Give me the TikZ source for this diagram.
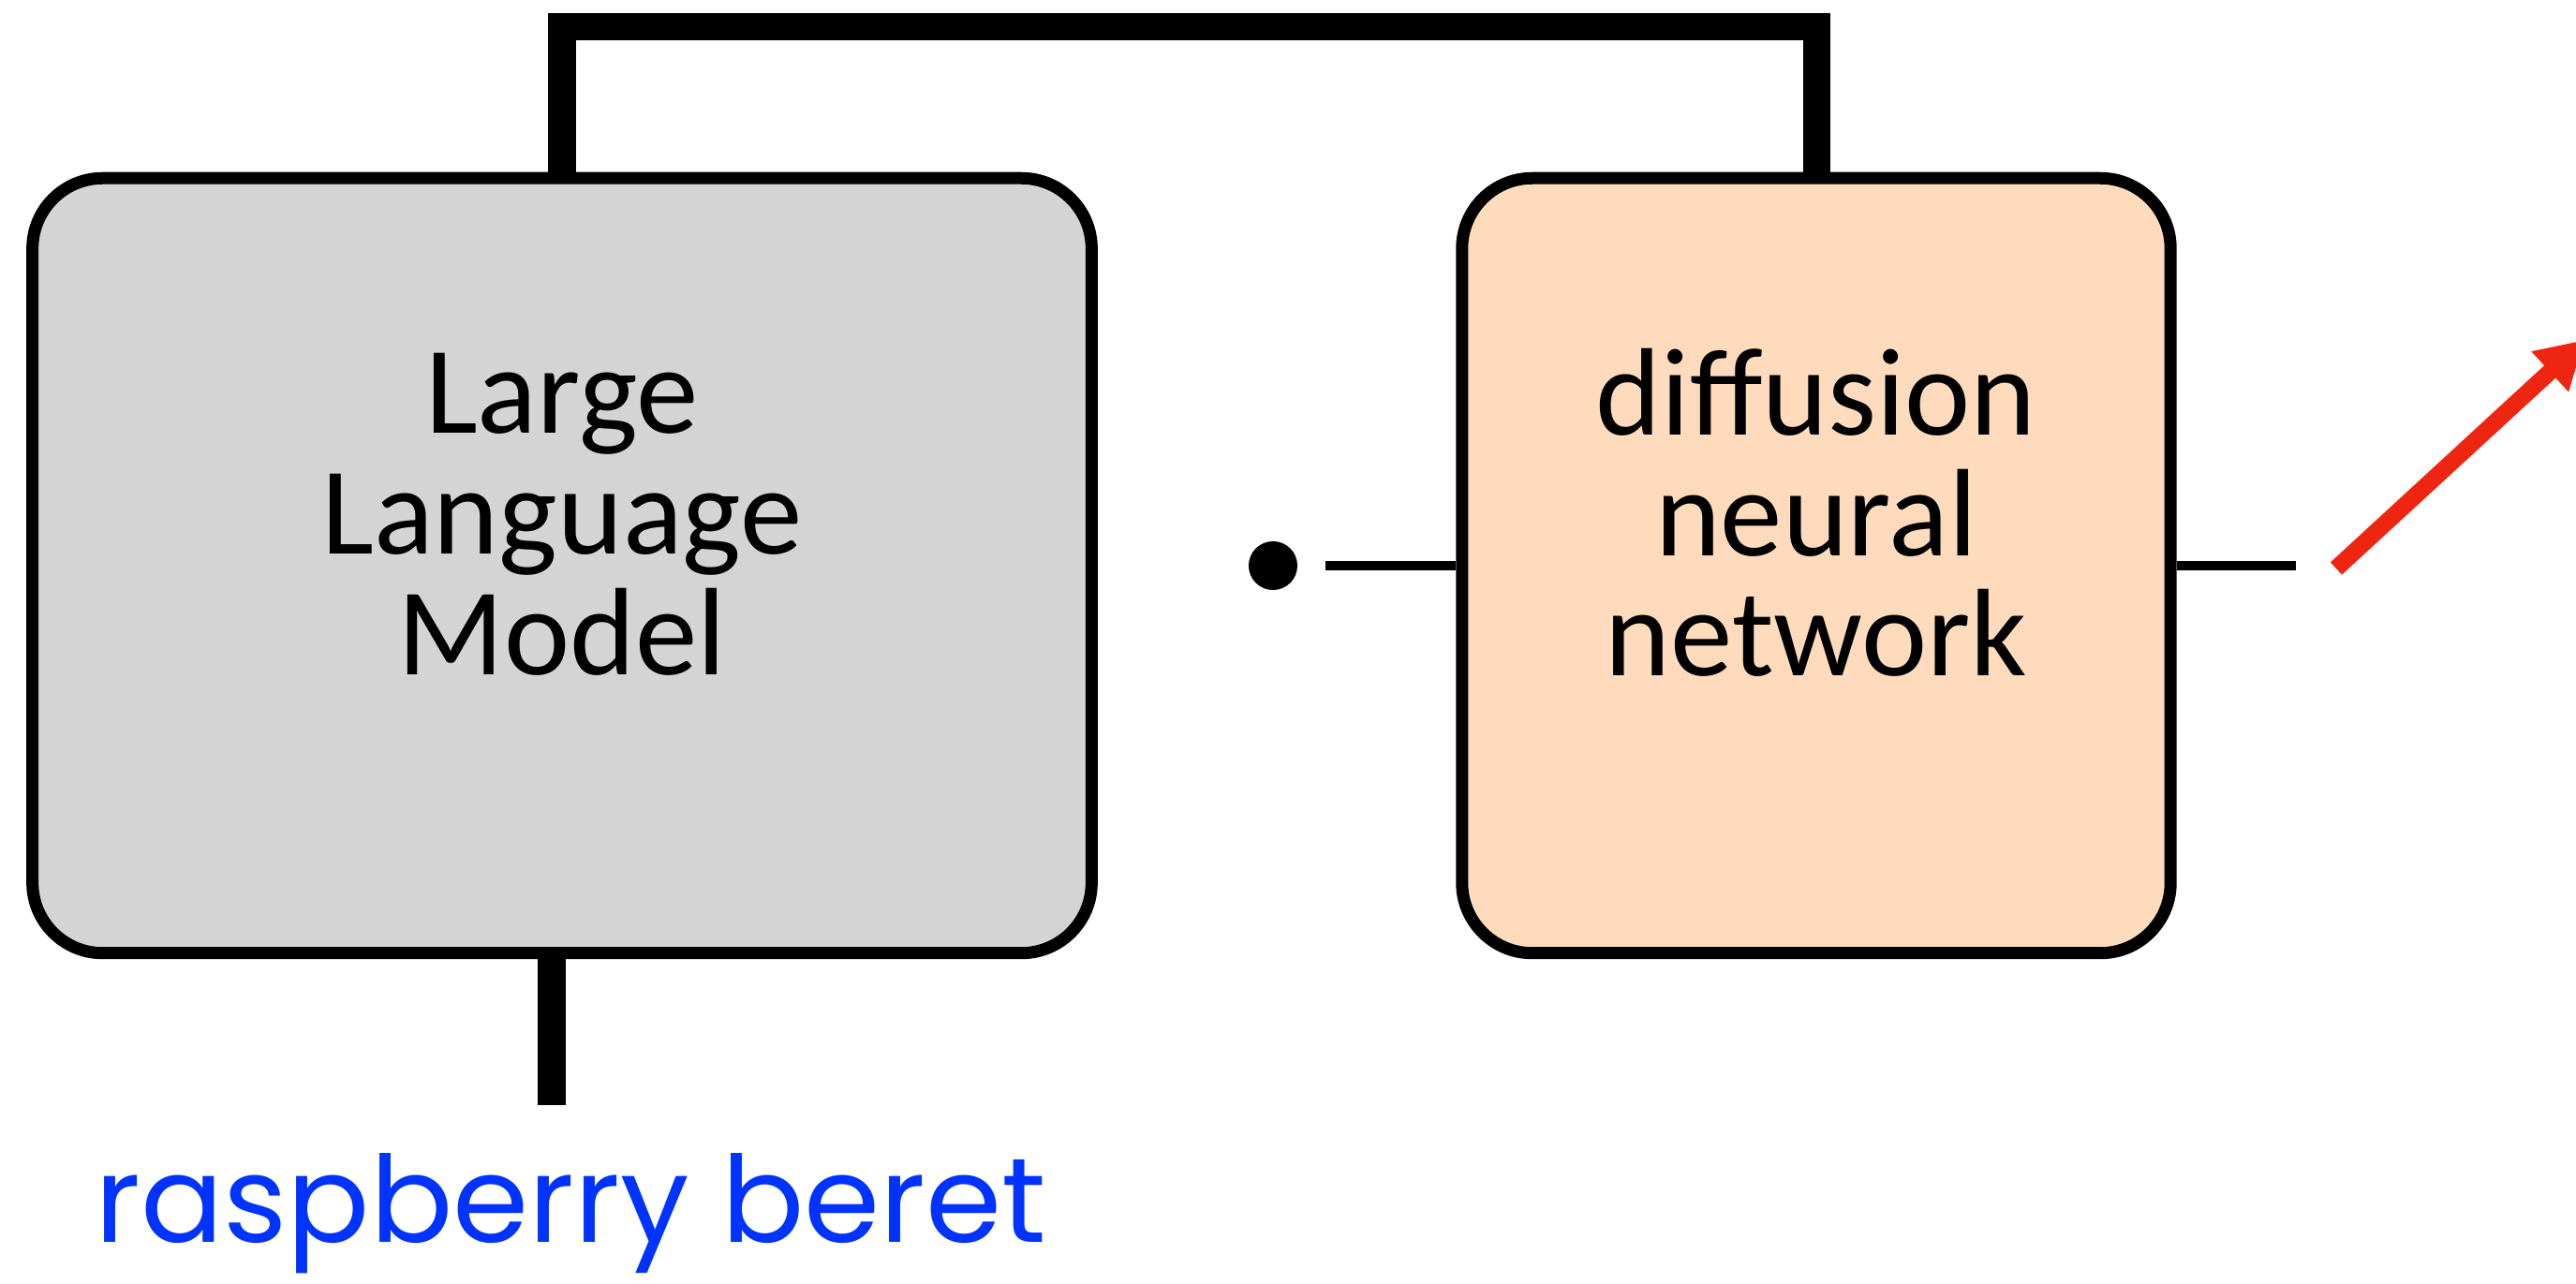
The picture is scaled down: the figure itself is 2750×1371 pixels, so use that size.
\documentclass[tikz,border=0pt]{standalone}
\usepackage{fontspec}
\setmainfont{Carlito}
\newfontfamily\geofont{Poppins}
\usepackage{xcolor}
\usetikzlibrary{arrows.meta}

\definecolor{boxgrey}{RGB}{212,212,212}
\definecolor{peach}{RGB}{254,219,189}
\definecolor{arrowred}{RGB}{238,37,17}
\definecolor{promptblue}{RGB}{0,51,255}

\begin{document}
\begin{tikzpicture}[
    x=0.01cm, y=-0.01cm,
    block/.style={draw=black, fill=#1, rounded corners=0.75cm, line width=0.13cm,
        minimum height=8.27cm, inner sep=0pt},
    block/.default=boxgrey,
    blocktext/.style={font=\fontsize{37.8pt}{36.6pt}\selectfont, align=center, inner sep=0pt},
    wire/.style={line width=0.1cm},
    bus/.style={line width=0.29cm},
    dot/.style={circle, fill=black, minimum size=0.52cm, inner sep=0pt}
]
    \useasboundingbox (0,0) rectangle (2750,1371);

    % Coordinates
    \coordinate (top) at (0, 28.5);
    \coordinate (promptend) at (589, 1180);
    \coordinate (noisein) at (1415, 604);
    \coordinate (imgout) at (2451, 604);
    \coordinate (arrowstart) at (2494, 607);
    \coordinate (arrowtip) at (2759, 363);

    % Blocks
    \node[block=boxgrey, minimum width=11.3cm] (llm) at (600, 604) {};
    \node[block=peach, minimum width=7.56cm] (dnn) at (1939, 604) {};
    \node[blocktext] (llmtext) at ([yshift=0.545cm]llm.center) {Large\\Language\\Model};
    \node[blocktext] (dnntext) at ([yshift=0.565cm]dnn.center) {diffusion\\neural\\network};

    % Connections
    \draw[bus] (llm.north) -- (llm.north |- top) -| (dnn.north);
    \draw[bus] (promptend) -- (promptend |- llm.south);
    \node[dot] (noise) at (1359, 604) {};
    \draw[wire] (noisein) -- (dnn.west);
    \draw[wire] (dnn.east) -- (imgout);
    \draw[line width=0.18cm, arrowred, -{Triangle[width=0.55cm, length=0.5cm]}] (arrowstart) -- (arrowtip);

    % Prompt
    \node[anchor=base, text=promptblue, inner sep=0pt] (prompt) at (609.5, 1327)
        {\resizebox{10.15cm}{\height}{\geofont\fontsize{36.5pt}{40pt}\selectfont raspberry beret}};

\end{tikzpicture}
\end{document}
